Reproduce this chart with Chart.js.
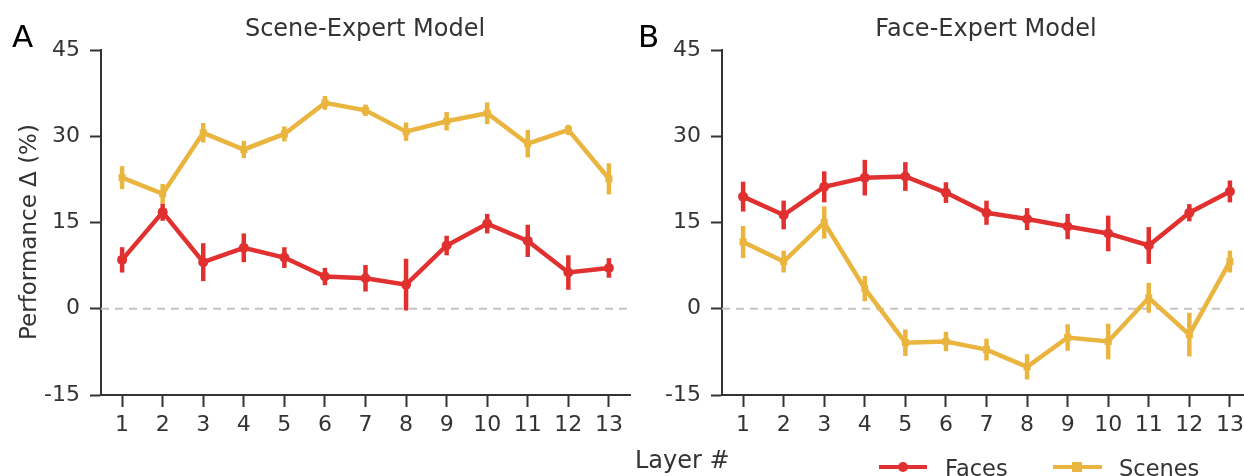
<!DOCTYPE html>
<html>
<head>
<meta charset="utf-8">
<script src="https://cdn.jsdelivr.net/npm/chart.js@4"></script>
<style>
  html, body { margin: 0; padding: 0; background: #fff; overflow: hidden; width: 1244px; height: 476px; }
  body { position: relative; font-family: 'DejaVu Sans', sans-serif; color: #333; }
  canvas { position: absolute; top: 0; }
  .txt { position: absolute; white-space: nowrap; line-height: 1; }
</style>
</head>
<body>
<canvas id="sceneChart" style="left:0px"></canvas>
<canvas id="faceChart" style="left:621px"></canvas>

<div class="txt" style="left:12px; top:21px; font-size:31px; color:#000">A</div>
<div class="txt" style="left:638px; top:21px; font-size:31px; color:#000">B</div>
<div class="txt" style="left:365px; top:16px; font-size:24px; transform:translateX(-50%)">Scene-Expert Model</div>
<div class="txt" style="left:986px; top:16px; font-size:24px; transform:translateX(-50%)">Face-Expert Model</div>
<div class="txt" style="left:28px; top:232px; font-size:23px; transform:translate(-50%,-50%) rotate(-90deg)">Performance Δ (%)</div>
<div class="txt" style="left:635px; top:448px; font-size:24px">Layer #</div>

<!-- legend -->
<div style="position:absolute; left:879px; top:465px; width:48px; height:4px; background:#e0302f"></div>
<div style="position:absolute; left:898px; top:462px; width:10px; height:10px; border-radius:50%; background:#e0302f"></div>
<div class="txt" style="left:945px; top:457px; font-size:22.5px">Faces</div>
<div style="position:absolute; left:1053px; top:465px; width:49px; height:4px; background:#eab53f"></div>
<div style="position:absolute; left:1072px; top:462px; width:10px; height:10px; background:#eab53f"></div>
<div class="txt" style="left:1119px; top:457px; font-size:22.5px">Scenes</div>

<script>
// layers on the x axis
const layers = [1, 2, 3, 4, 5, 6, 7, 8, 9, 10, 11, 12, 13];
const yTicks = [-15, 0, 15, 30, 45];

// A: scene-expert model
const sceneModelFaces = [8.5, 16.8, 8.1, 10.6, 8.9, 5.6, 5.3, 4.2, 11.0, 14.8, 11.8, 6.3, 7.1];
const sceneModelFacesErr = [2.2, 1.5, 3.3, 2.5, 1.8, 1.5, 2.3, 4.5, 1.7, 1.7, 2.8, 3.0, 1.7];
const sceneModelScenes = [22.8, 20.0, 30.6, 27.7, 30.4, 35.8, 34.5, 30.8, 32.6, 34.0, 28.7, 31.1, 22.6];
const sceneModelScenesErr = [2.0, 1.7, 1.7, 1.5, 1.3, 1.2, 1.0, 1.6, 1.6, 1.9, 2.4, 0.9, 2.7];

// B: face-expert model
const faceModelFaces = [19.5, 16.3, 21.2, 22.8, 23.0, 20.2, 16.7, 15.6, 14.3, 13.1, 11.0, 16.7, 20.4];
const faceModelFacesErr = [2.6, 2.5, 2.7, 3.1, 2.5, 1.8, 2.1, 1.9, 2.2, 3.1, 3.2, 1.5, 1.9];
const faceModelScenes = [11.6, 8.2, 15.0, 3.5, -5.9, -5.7, -7.1, -10.1, -5.0, -5.7, 1.9, -4.5, 8.2];
const faceModelScenesErr = [2.8, 1.9, 2.8, 2.2, 2.3, 1.7, 1.9, 2.2, 2.3, 3.1, 2.6, 3.8, 1.9];

const RED = '#e0302f';
const YELLOW = '#eab53f';
const AXIS = '#333333';

// vertical error bars + dashed zero line
const errorBarPlugin = {
  id: 'errorBars',
  beforeDatasetsDraw(chart) {
    const { ctx, chartArea, scales } = chart;
    const y0 = scales.y.getPixelForValue(0);
    ctx.save();
    ctx.strokeStyle = '#c4c4c4';
    ctx.lineWidth = 2;
    ctx.setLineDash([8, 6]);
    ctx.beginPath();
    ctx.moveTo(chartArea.left, y0);
    ctx.lineTo(chartArea.right, y0);
    ctx.stroke();
    ctx.restore();
  },
  afterDatasetsDraw(chart) {
    const { ctx, scales } = chart;
    chart.data.datasets.forEach(ds => {
      ctx.save();
      ctx.strokeStyle = ds.borderColor;
      ctx.lineWidth = 4.5;
      ds.data.forEach((p, i) => {
        const e = ds.errors[i];
        const x = scales.x.getPixelForValue(p.x);
        ctx.beginPath();
        ctx.moveTo(x, scales.y.getPixelForValue(p.y - e));
        ctx.lineTo(x, scales.y.getPixelForValue(p.y + e));
        ctx.stroke();
      });
      ctx.restore();
    });
  }
};

function makeConfig(faces, facesErr, scenes, scenesErr) {
  return {
    type: 'line',
    data: {
      datasets: [
        {
          label: 'Faces',
          data: layers.map((l, i) => ({ x: l, y: faces[i] })),
          errors: facesErr,
          borderColor: RED,
          backgroundColor: RED,
          borderWidth: 4.5,
          pointStyle: 'circle',
          pointRadius: 5,
          pointBorderWidth: 0
        },
        {
          label: 'Scenes',
          data: layers.map((l, i) => ({ x: l, y: scenes[i] })),
          errors: scenesErr,
          borderColor: YELLOW,
          backgroundColor: YELLOW,
          borderWidth: 4.5,
          pointStyle: 'rect',
          pointRadius: 5,
          pointBorderWidth: 0
        }
      ]
    },
    options: {
      responsive: false,
      animation: false,
      layout: { padding: { top: 50, right: 6, left: 0, bottom: 0 } },
      plugins: { legend: { display: false }, tooltip: { enabled: false } },
      scales: {
        x: {
          type: 'linear',
          min: 0.48,
          max: 13.52,
          afterBuildTicks: s => { s.ticks = layers.map(v => ({ value: v })); },
          afterFit: s => { s.height = 81; },
          border: { color: AXIS, width: 2 },
          grid: { drawOnChartArea: false, tickLength: 12, tickColor: AXIS, tickWidth: 2 },
          ticks: { color: AXIS, padding: 5, maxRotation: 0, font: { family: 'DejaVu Sans', size: 22 } }
        },
        y: {
          min: -15,
          max: 45,
          afterBuildTicks: s => { s.ticks = yTicks.map(v => ({ value: v })); },
          afterFit: s => { s.width = 101; },
          border: { color: AXIS, width: 2 },
          grid: { drawOnChartArea: false, tickLength: 11, tickColor: AXIS, tickWidth: 2 },
          ticks: { color: AXIS, padding: 10, font: { family: 'DejaVu Sans', size: 22 } }
        }
      }
    },
    plugins: [errorBarPlugin]
  };
}

const c1 = document.getElementById('sceneChart');
c1.width = 636; c1.height = 476;
new Chart(c1.getContext('2d'), makeConfig(sceneModelFaces, sceneModelFacesErr, sceneModelScenes, sceneModelScenesErr));

const c2 = document.getElementById('faceChart');
c2.width = 636; c2.height = 476;
new Chart(c2.getContext('2d'), makeConfig(faceModelFaces, faceModelFacesErr, faceModelScenes, faceModelScenesErr));
</script>
</body>
</html>
